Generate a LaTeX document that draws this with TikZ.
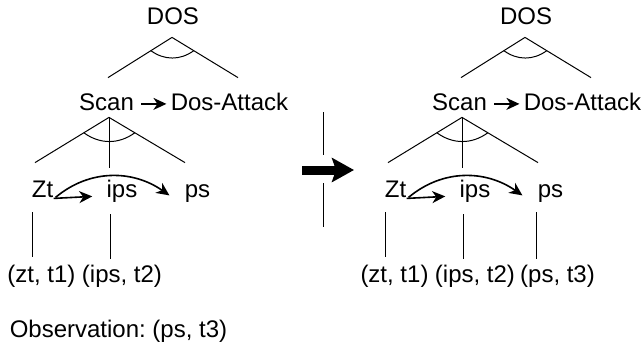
\documentclass[tikz,border=0pt]{standalone}
\usepackage{fontspec}
\setmainfont{Liberation Sans}
\usetikzlibrary{arrows.meta,calc,positioning}
\tikzset
{
    goal/.style     = {font=\fontsize{12}{14}\selectfont\frenchspacing, inner sep=2pt, text height=8.6pt, text depth=2.5pt, anchor=base},
    branch/.style   = {line width=0.5pt},
    seq/.style      = {-{Stealth[length=6.5pt,width=6pt,inset=2pt]}, line width=0.8pt},
    bigarrow/.style = {-{Stealth[length=11pt,width=12pt,inset=2pt]}, line width=4.5pt}
}
\begin{document}
\begin{tikzpicture}[x=0.5pt, y=0.5pt]
    \useasboundingbox (0,0) rectangle (642,-349);
    \node [goal] (dosL) at (173,-24) {DOS};
    \node [goal] (scanL) at (106.5,-110) {Scan};
    \node [goal] (attackL) at (229.5,-110) {Dos-Attack};
    \node [goal] (ztL) at (42.5,-197) {Zt};
    \node [goal] (ipsL) at (122,-197) {ips};
    \node [goal] (psL) at (197.5,-197) {ps};
    \node [goal] (obsZtL) at (41.5,-282) {(zt, t1)};
    \node [goal] (obsIpsL) at (122,-282) {(ips, t2)};
    \node [goal] (observation) at (118.5,-337) {Observation: (ps, t3)};
    \coordinate (dosTopL) at ([shift={(-1,-4)}]dosL.south);
    \coordinate (scanTopL) at ([shift={(2.5,2)}]scanL.south);
    \draw [branch] (dosTopL) -- ([shift={(1.5,10.8)}]scanL.north) coordinate (dosLeftL);
    \draw [branch] (dosTopL) -- ([shift={(8.5,10.8)}]attackL.north) coordinate (dosRightL);
    \draw [branch] ($(dosTopL)!0.33!(dosLeftL)$) to[out=-36, in=-144] ($(dosTopL)!0.33!(dosRightL)$);
    \draw [seq] ([xshift=1.5pt]scanL.east) -- (attackL.west);
    \draw [branch] (scanTopL) -- ([shift={(-7.5,12.8)}]ztL.north) coordinate (scanLeftL);
    \draw [branch] (scanTopL) -- ([shift={(-13,7.8)}]ipsL.north);
    \draw [branch] (scanTopL) -- ([shift={(-12.5,12.8)}]psL.north) coordinate (scanRightL);
    \draw [branch] ($(scanTopL)!0.34!(scanLeftL)$) to[out=-36, in=-144] ($(scanTopL)!0.34!(scanRightL)$);
    \draw [seq] ([shift={(-4,8)}]ztL.south east) -- ([shift={(-10,10)}]ipsL.south west);
    \draw [seq] ([shift={(-2,9)}]ztL.south east) to[out=40, in=145] ([shift={(-11,11)}]psL.south west);
    \draw [branch] ([shift={(-10.5,-6)}]ztL.south) -- ([shift={(-9.5,3.8)}]obsZtL.north);
    \draw [branch] ([shift={(-12,-8)}]ipsL.south) -- ([shift={(-12,1.8)}]obsIpsL.north);

    \coordinate (stepFrom) at (302,-170);
    \coordinate (stepTo) at (354,-170);
    \draw [bigarrow] (stepFrom) -- (stepTo);
    \draw [branch] (323,-112) -- (323,-155) (323,-183) -- (323,-227);

    \node [goal] (dosR) at (526,-24) {DOS};
    \node [goal] (scanR) at (459.5,-110) {Scan};
    \node [goal] (attackR) at (582.5,-110) {Dos-Attack};
    \node [goal] (ztR) at (395.5,-197) {Zt};
    \node [goal] (ipsR) at (475,-197) {ips};
    \node [goal] (psR) at (550.5,-197) {ps};
    \node [goal] (obsZtR) at (394.5,-282) {(zt, t1)};
    \node [goal] (obsIpsR) at (475,-282) {(ips, t2)};
    \node [goal] (obsPsR) at (557.5,-282) {(ps, t3)};
    \coordinate (dosTopR) at ([shift={(-1,-4)}]dosR.south);
    \coordinate (scanTopR) at ([shift={(2.5,2)}]scanR.south);
    \draw [branch] (dosTopR) -- ([shift={(1.5,10.8)}]scanR.north) coordinate (dosLeftR);
    \draw [branch] (dosTopR) -- ([shift={(8.5,10.8)}]attackR.north) coordinate (dosRightR);
    \draw [branch] ($(dosTopR)!0.33!(dosLeftR)$) to[out=-36, in=-144] ($(dosTopR)!0.33!(dosRightR)$);
    \draw [seq] ([xshift=1.5pt]scanR.east) -- (attackR.west);
    \draw [branch] (scanTopR) -- ([shift={(-7.5,12.8)}]ztR.north) coordinate (scanLeftR);
    \draw [branch] (scanTopR) -- ([shift={(-13,7.8)}]ipsR.north);
    \draw [branch] (scanTopR) -- ([shift={(-12.5,12.8)}]psR.north) coordinate (scanRightR);
    \draw [branch] ($(scanTopR)!0.34!(scanLeftR)$) to[out=-36, in=-144] ($(scanTopR)!0.34!(scanRightR)$);
    \draw [seq] ([shift={(-4,8)}]ztR.south east) -- ([shift={(-10,10)}]ipsR.south west);
    \draw [seq] ([shift={(-2,9)}]ztR.south east) to[out=40, in=145] ([shift={(-11,11)}]psR.south west);
    \draw [branch] ([shift={(-10.5,-6)}]ztR.south) -- ([shift={(-9.5,3.8)}]obsZtR.north);
    \draw [branch] ([shift={(-12,-8)}]ipsR.south) -- ([shift={(-12,1.8)}]obsIpsR.north);
    \draw [branch] ([shift={(-14.5,-6)}]psR.south) -- ([shift={(-21.5,1.8)}]obsPsR.north);
\end{tikzpicture}
\end{document}
